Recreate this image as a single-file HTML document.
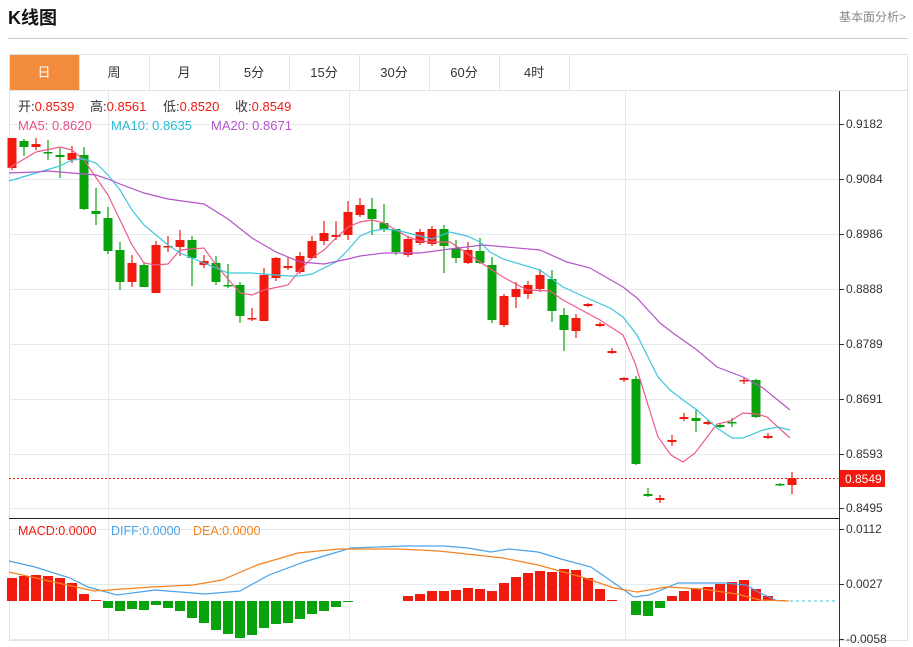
<!DOCTYPE html>
<html><head><meta charset="utf-8"><style>
body{margin:0;background:#fff;font-family:"Liberation Sans","Noto Sans CJK SC",sans-serif;}
#w{position:relative;width:913px;height:647px;overflow:hidden;}
svg{position:absolute;left:0;top:0}
</style></head><body><div id="w">
<svg id="s" width="913" height="647" xmlns="http://www.w3.org/2000/svg" font-family="Liberation Sans, Noto Sans CJK SC, sans-serif">
<text x="8" y="24" font-size="18" font-weight="bold" fill="#111">K线图</text>
<text x="906" y="21" font-size="12" fill="#888" text-anchor="end">基本面分析&gt;</text>
<line x1="8" y1="38.5" x2="908" y2="38.5" stroke="#ccc"/>
<rect x="9.5" y="54.5" width="898" height="586" fill="none" stroke="#dde3ea"/>
<line x1="9" y1="90.5" x2="908" y2="90.5" stroke="#dde3ea"/>
<rect x="10" y="55" width="69" height="35" fill="#f28b3c"/>
<g font-size="13" fill="#333" text-anchor="middle">
<text x="44" y="77" fill="#fff">日</text><text x="114" y="77">周</text><text x="184" y="77">月</text><text x="254" y="77">5分</text><text x="324" y="77">15分</text><text x="394" y="77">30分</text><text x="464" y="77">60分</text><text x="534" y="77">4时</text>
</g>
<g stroke="#dde3ea"><line x1="79.5" y1="55" x2="79.5" y2="90"/><line x1="149.5" y1="55" x2="149.5" y2="90"/><line x1="219.5" y1="55" x2="219.5" y2="90"/><line x1="289.5" y1="55" x2="289.5" y2="90"/><line x1="359.5" y1="55" x2="359.5" y2="90"/><line x1="429.5" y1="55" x2="429.5" y2="90"/><line x1="499.5" y1="55" x2="499.5" y2="90"/><line x1="569.5" y1="55" x2="569.5" y2="90"/></g>
<g id="grid" stroke="#e3eaf0"></g>
<line x1="839.5" y1="91" x2="839.5" y2="647" stroke="#333"/>
<line x1="9" y1="518.5" x2="839" y2="518.5" stroke="#222"/>
<g id="c"></g>
<line x1="9" y1="478.5" x2="838" y2="478.5" stroke="#f01a0e" stroke-dasharray="2,2"/>
<rect x="840" y="470" width="45" height="17" fill="#f01a0e"/>
<text x="845" y="483" font-size="12" fill="#fff">0.8549</text>
<g font-size="13">
<text x="18" y="111" fill="#333">开:<tspan fill="#f01a0e">0.8539</tspan></text>
<text x="90" y="111" fill="#333">高:<tspan fill="#f01a0e">0.8561</tspan></text>
<text x="163" y="111" fill="#333">低:<tspan fill="#f01a0e">0.8520</tspan></text>
<text x="235" y="111" fill="#333">收:<tspan fill="#f01a0e">0.8549</tspan></text>
<text x="18" y="130" fill="#e8508a">MA5: 0.8620</text>
<text x="111" y="130" fill="#29b9d6">MA10: 0.8635</text>
<text x="211" y="130" fill="#b455c8">MA20: 0.8671</text>
<text x="18" y="535" fill="#f01a0e" font-size="12.5">MACD:0.0000</text>
<text x="111" y="535" fill="#4aa3e8" font-size="12.5">DIFF:0.0000</text>
<text x="193" y="535" fill="#f5821f" font-size="12.5">DEA:0.0000</text>
</g>
</svg></div>
<script>
var s=document.getElementById('c'),g=document.getElementById('grid'),S=document.getElementById('s'),NS='http://www.w3.org/2000/svg';
function el(p,t,a){var e=document.createElementNS(NS,t);for(var k in a)e.setAttribute(k,a[k]);p.appendChild(e);return e;}
[124,179,234,289,344,399,454,508,529,584,639].forEach(function(y){el(g,'line',{x1:9,x2:839,y1:y+.5,y2:y+.5});});
[108,349,625].forEach(function(x){el(g,'line',{x1:x+.5,x2:x+.5,y1:91,y2:640});});
var labs=[[124,'0.9182'],[179,'0.9084'],[234,'0.8986'],[289,'0.8888'],[344,'0.8789'],[399,'0.8691'],[454,'0.8593'],[508,'0.8495'],[529,'0.0112'],[584,'0.0027'],[639,'-0.0058']];
labs.forEach(function(l){el(S,'line',{x1:840,x2:844,y1:l[0]+.5,y2:l[0]+.5,stroke:'#333'});var t=el(S,'text',{x:846,y:l[0]+4,'font-size':12,fill:'#333'});t.textContent=l[1];});
var R='#f01a0e',G='#08a20d';
var C=[[138,168,138,170,R],[141,147,139,156,G],[144,147,138,150,R],[152,153.5,140,160,G],[155,157,148,178,G],[153,160,146,163,R],[155,209,147,210,G],[211,214,188,225,G],[218,251,207,254,G],[250,282,242,290,G],[263,282,255,287,R],[265,287,262,287,G],[245,293,241,293,R],[246,247.5,236,252,R],[240,247,230,256,R],[240,258,236,286,G],[261,265,255,268,R],[263,282,256,285,G],[285,286.5,264,288,G],[285,316,282,323,G],[318,319.5,308,321,R],[275,321,268,321,R],[258,278,257,281,R],[266,268,257,270,R],[256,272,252,274,R],[241,258,236,259,R],[233,241,221,245,R],[235,237,221,240,R],[212,235,201,240,R],[205,215,198,217,R],[209,219,198,235,G],[223,229,204,232,G],[229,252,229,255,G],[239,255,236,257,R],[232,243,229,245,R],[229,244,226,246,R],[229,246,225,273,G],[248,258,240,263,G],[250,263,242,264,R],[251,263,238,264,G],[265,320,257,323,G],[296,325,294,327,R],[289,297,282,308,R],[285,294,281,299,R],[275,289,269,292,R],[279,311,270,322,G],[315,330,308,351,G],[318,331,314,338,R],[304,306,303,307,R],[324,326,322,327,R],[351,353,348,354,R],[378,380,377,382,R],[379,464,376,465,G],[494,496,488,497,G],[498,500,495,503,R],[440,442,435,446,R],[417,419,413,421,R],[418,421,410,432,G],[422,424,420,425,R],[425,427,423,428,G],[422,423.5,418,427,G],[380,381.5,378,384,R],[380,417,379,418,G],[436,438,433,439,R],[484,485.5,483,486,G],[478,485,472,494,R]];
C.forEach(function(c,i){var x=12+12*i;el(s,'line',{x1:x,x2:x,y1:c[2],y2:c[3],stroke:c[4],'stroke-width':1.2});el(s,'rect',{x:x-4.5,y:c[0],width:9,height:Math.max(1.5,c[1]-c[0]),fill:c[4]});});
function pl(p,col){el(s,'polyline',{points:p,fill:'none',stroke:col,'stroke-width':1.2});}
pl('9,168 36,152 60,147 72,150 84,160 108,195 132,245 144,263 156,265 168,264 180,250 204,248 216,265 240,293 252,295 264,290 288,285 300,270 312,258 324,250 336,238 348,227 360,222 372,220 384,223 396,230 408,237 420,241 432,242 450,242 480,262 503,277 527,290 550,291 563,300 600,320 623,335 635,363 658,437 671,455 683,462 695,453 717,424 730,421 743,413 757,414 767,417 790,438','#ee5a8c');
pl('9,181 36,173 60,166 72,160 84,159 96,163 108,175 120,190 132,210 144,225 168,245 180,253 204,263 228,273 252,273 264,274 288,276 300,276 312,274 324,268 336,262 348,250 360,236 372,231 384,229 396,230 408,233 420,236 432,239 450,232 467,236 480,242 490,252 503,259 540,270 563,287 587,298 610,308 623,317 637,335 658,377 670,390 683,400 697,410 717,428 732,438 743,438 763,430 778,427 790,430','#3fc6dd');
pl('9,173 36,172 48,171 72,173 96,175 108,179 120,184 144,193 168,199 204,204 228,219 252,238 276,252 300,262 324,264 348,259 360,256 384,253 420,253 450,249 483,245 540,250 567,262 590,268 623,287 637,298 660,323 673,333 697,350 717,367 743,377 763,388 790,410','#b455c8');
var M=[578,576,575,576,578,583,594,600,608,611,609,610,605,608,611,618,623,630,634,638,635,628,624,623,619,614,611,607,602,601,601,601,601,596,594,591,591,590,588,589,591,583,577,573,571,572,569,570,578,589,600,601,615,616,608,596,591,589,587,584,582,580,589,596,600];
M.forEach(function(y,i){var x=12+12*i;if(Math.abs(y-601)<1)return;el(s,'rect',{x:x-5,y:Math.min(y,601),width:10,height:Math.abs(y-601),fill:y<601?R:G});});
el(s,'line',{x1:790,x2:838,y1:601,y2:601,stroke:'#3fc6dd','stroke-dasharray':'3,3'});
pl('9,561 35,567 70,578 88,587 117,595 140,592 155,590 205,594 240,591 269,575 304,562 351,548 404,546 444,546 468,548 491,552 509,549 538,552 561,559 591,567 614,583 634,597 649,595 678,583 725,583 746,585 760,593 778,601','#4aa3e8');
pl('9,572 58,583 94,591 152,587 193,585 222,580 257,565 298,553 339,549 398,549 439,551 503,558 538,565 585,578 614,588 637,592 667,587 702,589 737,594 760,600 789,601','#f5821f');
</script></body></html>
